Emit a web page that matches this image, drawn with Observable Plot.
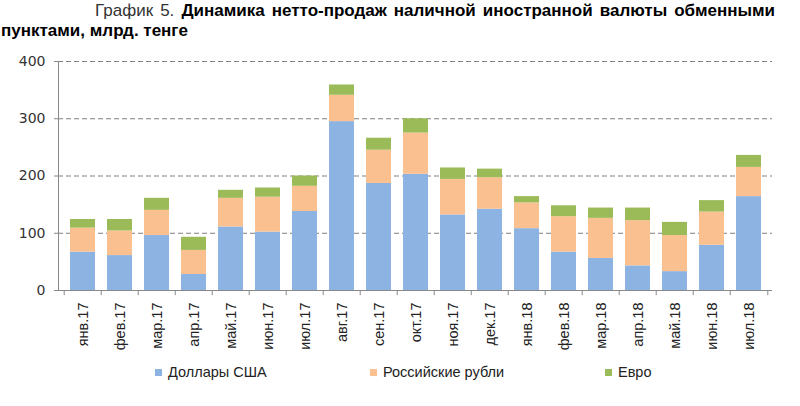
<!DOCTYPE html>
<html><head><meta charset="utf-8">
<script src="https://cdn.jsdelivr.net/npm/d3@7"></script>
<script src="https://cdn.jsdelivr.net/npm/@observablehq/plot@0.6"></script>
<style>
body{margin:0;background:#fff;width:800px;height:406px;position:relative;overflow:hidden;font-family:"Liberation Sans",Arial,sans-serif;}
#t1{position:absolute;left:95px;top:1px;width:680px;font-size:17px;font-family:"Liberation Sans",sans-serif;text-align:justify;text-align-last:justify;white-space:nowrap;color:#000;}
#t2{position:absolute;left:1px;top:21px;font-size:17px;font-family:"Liberation Sans",sans-serif;font-weight:bold;color:#000;white-space:nowrap;}
#chart{position:absolute;left:0;top:48px;}
#legend{position:absolute;top:364px;left:0;width:800px;height:20px;font-family:"Liberation Sans",sans-serif;font-size:14.5px;color:#222;}
.li{position:absolute;top:0;white-space:nowrap;}
.sw{display:inline-block;width:7px;height:7px;margin-right:6px;vertical-align:1px;}
</style></head>
<body>
<div id="t1"><span style="color:#333">График 5.</span> <b>Динамика нетто-продаж наличной иностранной валюты обменными</b></div>
<div id="t2">пунктами, млрд. тенге</div>
<div id="chart"></div>
<div id="legend"></div>
<script>
const months = ["янв.17","фев.17","мар.17","апр.17","май.17","июн.17","июл.17","авг.17","сен.17","окт.17","ноя.17","дек.17","янв.18","фев.18","мар.18","апр.18","май.18","июн.18","июл.18"];
const seriesNames = ["Доллары США","Российские рубли","Евро"];
const usd = [67,61,96,28,111,102,138,295,187,203,132,142,108,67,56,43,33,79,164];
const rub = [42,43,44,42,50,61,44,46,58,72,62,55,45,62,70,79,63,58,51];
const eur = [15,20,21,23,14,16,18,18,21,25,20,15,11,19,18,22,23,20,21];
const colors = ["#8DB3E2","#FAC08F","#9BBB59"];
const yTicks = [0,100,200,300,400];

const values = [usd, rub, eur];
const data = [];
months.forEach((m,i)=>{ seriesNames.forEach((s,k)=>data.push({month:m, series:s, value:values[k][i]})); });

const W = 800, H = 310, mL = 58, mR = 28, mT = 13, mB = 68;
const step = (W - mL - mR) / months.length;

const chart = Plot.plot({
  width: W, height: H,
  marginLeft: mL, marginRight: mR, marginTop: mT, marginBottom: mB,
  style: {fontFamily: "Liberation Sans, sans-serif", fontSize: "14px", color: "#333", background: "#fff"},
  x: {domain: months, paddingInner: 0.33, paddingOuter: 0.165, label: null},
  y: {domain: [0,400], label: null},
  color: {domain: seriesNames, range: colors},
  marks: [
    Plot.gridY(yTicks, {stroke: "#808080", strokeOpacity: 1, strokeDasharray: "5,3", strokeWidth: 1}),
    Plot.barY(data, {x: "month", y: "value", fill: "series"}),
    Plot.frame({anchor: "left", stroke: "#888"}),
    Plot.ruleY([0], {stroke: "#888"}),
    Plot.ruleX(months, {x: d=>d, y1: 0, y2: -9, dx: -step/2, stroke: "#888"}),
    Plot.ruleX([months[months.length-1]], {x: d=>d, y1: 0, y2: -9, dx: step/2, stroke: "#888"}),
    Plot.axisY(yTicks, {tickSize: 4, tickPadding: 9, fontSize: 14, fontFamily: "DejaVu Sans, sans-serif", stroke: "#888", fill: "#333"}),
    Plot.axisX({tickSize: 0, tickRotate: -90, tickPadding: 12, fontSize: 14.5, fill: "#222"})
  ]
});
document.getElementById("chart").appendChild(chart);

const leg = document.getElementById("legend");
const lx = [155, 370, 605];
seriesNames.forEach((s,k)=>{
  const d = document.createElement("div");
  d.className = "li"; d.style.left = lx[k] + "px";
  d.innerHTML = `<span class="sw" style="background:${colors[k]}"></span>${s}`;
  leg.appendChild(d);
});
</script>
</body></html>
